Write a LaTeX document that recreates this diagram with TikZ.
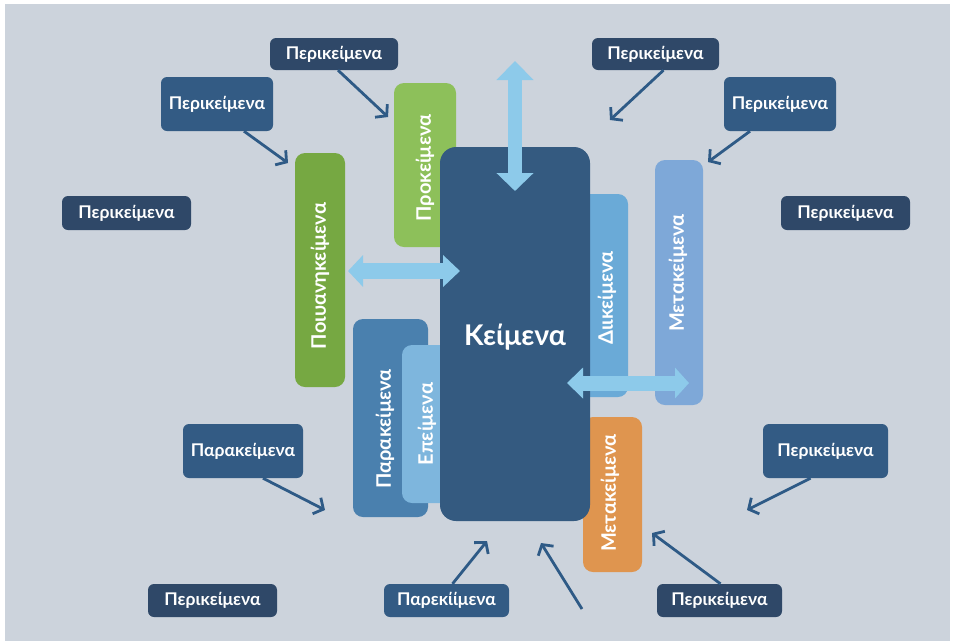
\documentclass[tikz,border=0pt]{standalone}
\usepackage{fontspec}
\setmainfont{Lato}
\usetikzlibrary{arrows.meta}
\definecolor{bgc}{HTML}{CCD3DC}
\definecolor{navy}{HTML}{2F4868}
\definecolor{medblue}{HTML}{335B84}
\definecolor{mainc}{HTML}{345A80}
\definecolor{arrc}{HTML}{2E5A86}
\definecolor{lightarr}{HTML}{8DCAEA}
\definecolor{greenA}{HTML}{8DC05A}
\definecolor{greenB}{HTML}{76A842}
\definecolor{paraC}{HTML}{4A80AE}
\definecolor{epeC}{HTML}{7EB6DD}
\definecolor{diiC}{HTML}{6AAAD7}
\definecolor{metaC}{HTML}{7EA8D8}
\definecolor{orangeC}{HTML}{DF954F}
\begin{document}
\begin{tikzpicture}[x=1pt,y=-1pt,
  lab/.style={rounded corners=6pt, inner sep=0pt, text=white, font=\fontsize{17.5}{17.5}\selectfont\bfseries},
  darklab/.style={lab, fill=navy},
  medlab/.style={lab, fill=medblue},
  tall/.style={rounded corners=10pt, inner sep=0pt},
  vtext/.style={rotate=90, text=white, inner sep=0pt, font=\fontsize{20}{20}\selectfont\bfseries},
  thinarr/.style={draw=arrc, line width=2.8pt, -{Straight Barb[length=7.5pt,width=18pt]}},
  bigarr/.style={draw=lightarr, fill=lightarr}
]
\useasboundingbox (0,0) rectangle (955,641);
\fill[white] (0,0) rectangle (955,641);
\fill[bgc] (5,4) rectangle (950,641);

% tall boxes (behind)
\node[tall, fill=greenA, minimum width=62pt, minimum height=164pt] (prok) at (425,165) {};
\node[tall, fill=diiC, minimum width=53pt, minimum height=203pt] (dii) at (601.5,295.5) {};
\node[tall, fill=orangeC, minimum width=59pt, minimum height=155pt] (orng) at (612.5,494.5) {};
\node[tall, fill=paraC, minimum width=75pt, minimum height=198pt] (para) at (390.5,418) {};
\node[tall, fill=epeC, minimum width=58pt, minimum height=158pt] (epe) at (431,424) {};
\node[tall, fill=greenB, minimum width=50pt, minimum height=234pt] (poly) at (320,270) {};
\node[tall, fill=metaC, minimum width=48pt, minimum height=245pt] (meta) at (679,282.5) {};

\node[vtext] (tprok) at (425,168) {Προκείμενα};
\node[vtext] (tpoly) at (320,276) {Ποιυανηκείμενα};
\node[vtext] (tpara) at (385,429) {Παρακείμενα};
\node[vtext] (tepe) at (427,424) {Επείμενα};
\node[vtext] (tdii) at (607,298) {Διικείμενα};
\node[vtext] (tmeta) at (678,273) {Μετακείμενα};
\node[vtext] (torng) at (610,493) {Μετακείμενα};

% main block
\node[rounded corners=16pt, fill=mainc, minimum width=150pt, minimum height=374pt, inner sep=0pt] (main) at (515,334) {};
\node[text=white, font=\fontsize{28.5}{28.5}\selectfont\bfseries] (tmain) at (515,337) {Κείμενα};

% big double arrows
\coordinate (vt) at (515,61);
\coordinate (vb) at (515,191);
\coordinate (hl1) at (348,271);
\coordinate (hl2) at (460,271);
\coordinate (hr1) at (567,383);
\coordinate (hr2) at (689,383);
\draw[lightarr, line width=14pt, {Triangle[length=19pt,width=36pt]}-{Triangle[length=18pt,width=36pt]}] (vt) -- (vb);
\draw[lightarr, line width=16pt, {Triangle[length=15pt,width=31pt]}-{Triangle[length=17pt,width=31pt]}] (hl1) -- (hl2);
\draw[lightarr, line width=15pt, {Triangle[length=16pt,width=30pt]}-{Triangle[length=14pt,width=30pt]}] (hr1) -- (hr2);

% labels
\node[darklab, minimum width=128pt, minimum height=32pt] (l1) at (334,54) {Περικείμενα};
\node[medlab, minimum width=112pt, minimum height=54pt] (l2) at (217,104) {Περικείμενα};
\node[darklab, minimum width=129pt, minimum height=34pt] (l3) at (126.5,213) {Περικείμενα};
\node[darklab, minimum width=127pt, minimum height=32pt] (l4) at (655.5,54) {Περικείμενα};
\node[medlab, minimum width=112pt, minimum height=54pt] (l5) at (780,104) {Περικείμενα};
\node[darklab, minimum width=129pt, minimum height=34pt] (l6) at (845.5,213) {Περικείμενα};
\node[medlab, minimum width=120pt, minimum height=54pt] (l7) at (243,451) {Παρακείμενα};
\node[darklab, minimum width=129pt, minimum height=33pt] (l8) at (212.5,600.5) {Περικείμενα};
\node[medlab, minimum width=125pt, minimum height=33pt] (l9) at (446.5,600.5) {Παρεκίίμενα};
\node[darklab, minimum width=125pt, minimum height=33pt] (l10) at (719.5,600.5) {Περικείμενα};
\node[medlab, minimum width=125pt, minimum height=54pt] (l11) at (825.5,451) {Περικείμενα};

% thin arrows
\coordinate (a1) at (388,117);
\coordinate (a2) at (288,163);
\coordinate (a4) at (610,120);
\coordinate (a5) at (708,162);
\coordinate (a7) at (325,510);
\coordinate (a9) at (487,541);
\coordinate (a10) at (652,533);
\coordinate (a11) at (747,510);
\coordinate (f1) at (582,609);
\coordinate (f2) at (541,543);
\draw[thinarr] ([xshift=4pt]l1.south) -- (a1);
\draw[thinarr] ([xshift=27pt]l2.south) -- (a2);
\draw[thinarr] ([xshift=8pt]l4.south) -- (a4);
\draw[thinarr] ([xshift=-30pt]l5.south) -- (a5);
\draw[thinarr] ([xshift=20pt]l7.south) -- (a7);
\draw[thinarr] ([xshift=6pt]l9.north) -- (a9);
\draw[thinarr] ([xshift=1pt]l10.north) -- (a10);
\draw[thinarr] ([xshift=-15pt]l11.south) -- (a11);
\draw[thinarr] (f1) -- (f2);
\end{tikzpicture}
\end{document}
